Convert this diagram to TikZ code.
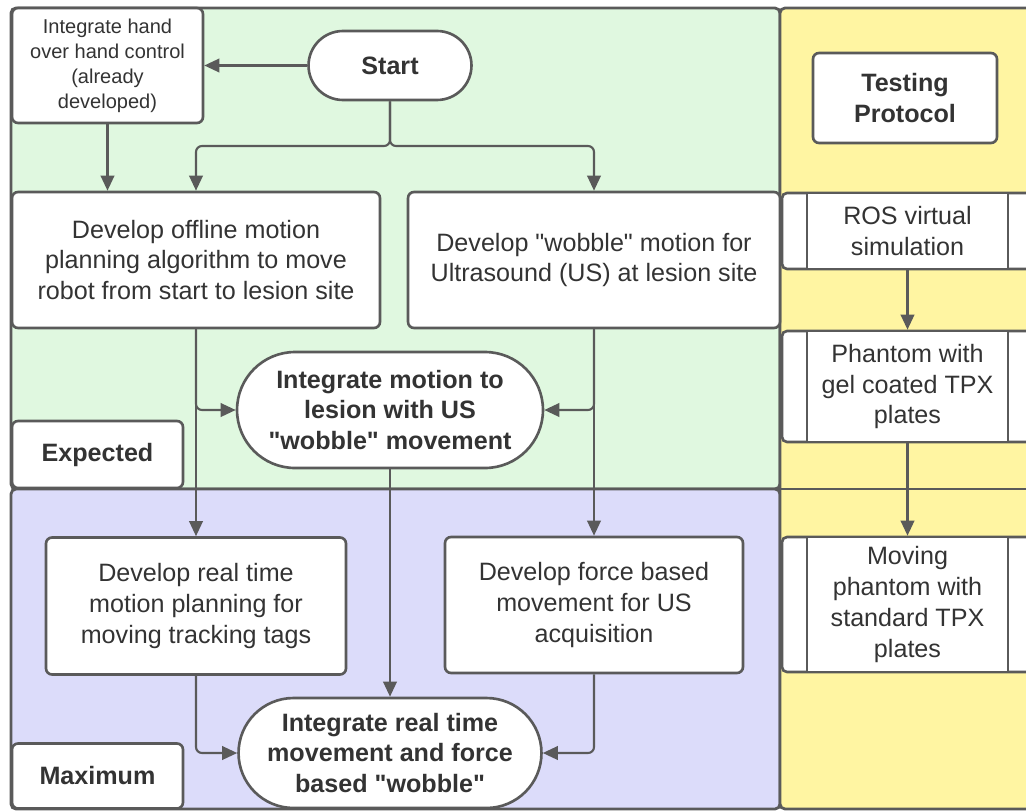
\documentclass[tikz,border=0pt]{standalone}
\usepackage{fontspec}
\setmainfont{Liberation Sans}
\usetikzlibrary{arrows.meta, positioning}

\definecolor{lanegreen}{RGB}{224,248,224}
\definecolor{laneblue}{RGB}{220,220,250}
\definecolor{laneyellow}{RGB}{255,245,162}
\definecolor{linegray}{RGB}{90,90,90}
\definecolor{textgray}{RGB}{51,51,51}

\tikzset{
  lane/.style={draw=linegray, line width=1.6pt, rounded corners=0.1cm},
  box/.style={draw=linegray, fill=white, line width=1.5pt, rounded corners=0.12cm,
    align=center, inner sep=0pt, text=textgray, font=\fontsize{14.3}{17.6}\selectfont},
  smallbox/.style={box, font=\fontsize{11.4}{14.2}\selectfont},
  pill/.style={box, font=\bfseries\fontsize{14.3}{17.6}\selectfont},
  tag/.style={box, font=\bfseries\fontsize{14.3}{17.6}\selectfont},
  proc/.style={box, rounded corners=0pt},
  conn/.style={draw=linegray, line width=1.2pt, rounded corners=0.12cm,
    -{Triangle[length=0.3cm,width=0.27cm]}},
}
\newcommand{\qt}{\textquotedbl}

\begin{document}
\begin{tikzpicture}[x=0.02cm, y=-0.02cm]
  \useasboundingbox (0,0) rectangle (1026,811);
  \clip (0,0) rectangle (1026,811);

  % lanes
  \draw[lane, fill=lanegreen] (11,8) rectangle (780,489);
  \draw[lane, fill=laneblue] (11,489) rectangle (780,809);
  \draw[lane, fill=laneyellow] (780,8) rectangle (1040,809);
  \draw[lane] (780,489) -- (1040,489);
  \foreach \top/\bot in {193/269, 331/442, 537/672}
    \draw[lane, fill=white, line width=1.5pt] (782,\top) rectangle (1040,\bot);

  % expected lane
  \node[smallbox, minimum width=3.82cm, minimum height=2.3cm] (hand) at (107.5,65.5)
    {Integrate hand\\over hand control\\(already\\developed)};
  \node[pill, minimum width=3.26cm, minimum height=1.38cm, rounded corners=0.69cm] (start) at (390,65.5) {Start};
  \node[box, minimum width=7.36cm, minimum height=2.72cm] (offline) at (196,260)
    {Develop offline motion\\planning algorithm to move\\robot from start to lesion site};
  \node[box, minimum width=7.44cm, minimum height=2.72cm] (wobble) at (594,260)
    {Develop \qt wobble\qt{} motion for\\Ultrasound (US) at lesion site};
  \node[pill, minimum width=6.12cm, minimum height=2.32cm, rounded corners=1.16cm] (integ) at (390,410)
    {Integrate motion to\\lesion with US\\\qt wobble\qt{} movement};
  \node[tag, minimum width=3.42cm, minimum height=1.34cm] (expected) at (97.5,454.5) {Expected};

  % maximum lane
  \node[box, minimum width=6cm, minimum height=2.74cm] (realtime) at (196,606)
    {Develop real time\\motion planning for\\moving tracking tags};
  \node[box, minimum width=5.96cm, minimum height=2.72cm] (force) at (594,605)
    {Develop force based\\movement for US\\acquisition};
  \node[pill, minimum width=6.06cm, minimum height=2.2cm, rounded corners=1.1cm] (final) at (390,753)
    {Integrate real time\\movement and force\\based \qt wobble\qt};
  \node[tag, minimum width=3.42cm, minimum height=1.3cm] (maximum) at (97.5,776) {Maximum};

  % testing lane
  \node[tag, minimum width=3.68cm, minimum height=1.8cm] (testing) at (905,98) {Testing\\Protocol};
  \node[proc, minimum width=4.02cm, minimum height=1.52cm] (ros) at (907.5,231) {ROS virtual\\simulation};
  \node[proc, minimum width=4.02cm, minimum height=2.22cm] (phantom) at (907.5,386.5)
    {Phantom with\\gel coated TPX\\plates};
  \node[proc, minimum width=4.02cm, minimum height=2.7cm] (moving) at (907.5,604.5)
    {Moving\\phantom with\\standard TPX\\plates};

  % connectors
  \coordinate (fork) at (390,146);
  \draw[conn] (start) -- (hand);
  \draw[conn] (start.south) -- (fork) -| (offline.north);
  \draw[conn] (start.south) -- (fork) -| (wobble.north);
  \draw[conn] (hand.south) -- (hand.south |- offline.north);
  \draw[conn] (offline.south) |- (integ.west);
  \draw[conn] (offline.south) -- (realtime.north);
  \draw[conn] (wobble.south) |- (integ.east);
  \draw[conn] (wobble.south) -- (force.north);
  \draw[conn] (integ.south) -- (final.north);
  \draw[conn] (realtime.south) |- (final.west);
  \draw[conn] (force.south) |- (final.east);
  \draw[conn] (ros) -- (phantom);
  \draw[conn] (phantom) -- (moving);
\end{tikzpicture}
\end{document}
